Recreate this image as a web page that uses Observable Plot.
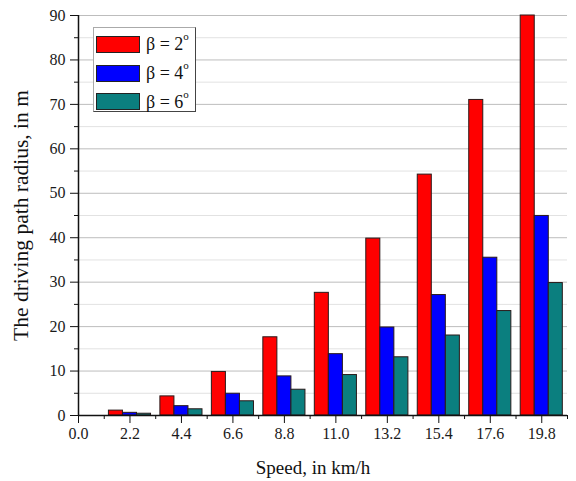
<!DOCTYPE html>
<html>
<head>
<meta charset="utf-8">
<script src="https://cdn.jsdelivr.net/npm/d3@7"></script>
<script src="https://cdn.jsdelivr.net/npm/@observablehq/plot@0.6"></script>
<style>
  html, body { margin: 0; padding: 0; background: #fff; }
  #wrap { position: relative; width: 576px; height: 481px; font-family: "Liberation Serif", "Times New Roman", serif; }
  #wrap svg text { font-family: "Liberation Serif", "Times New Roman", serif; }
  #legend { position: absolute; left: 93px; top: 27px; width: 103px; height: 85px; box-sizing: border-box;
    background: #fff; border: 1px solid #aaa; border-right-color: #444; border-bottom-color: #444; padding: 2px 0 0 2px; }
  #legend .row { display: flex; align-items: center; height: 28.8px; }
  #legend .sw { width: 44px; height: 17px; border: 1px solid #222; box-sizing: border-box; margin-right: 6px; }
  #legend .lab { font-family: "Liberation Serif", "Times New Roman", serif; font-size: 18px; color: #111; white-space: nowrap; line-height: 1; }
  #legend sup { font-size: 11px; position: relative; top: -4px; vertical-align: top; }
</style>
</head>
<body>
<div id="wrap"></div>
<script>
// ---- data ----
const speeds = [2.2, 4.4, 6.6, 8.8, 11.0, 13.2, 15.4, 17.6, 19.8];
const beta2 = [1.1, 4.3, 9.8, 17.6, 27.6, 39.8, 54.2, 71.0, 90.0];
const beta4 = [0.6, 2.1, 4.9, 8.8, 13.8, 19.8, 27.1, 35.5, 44.9];
const beta6 = [0.4, 1.4, 3.2, 5.8, 9.1, 13.1, 18.0, 23.5, 29.8];
const seriesNames = ["β = 2", "β = 4", "β = 6"];
const seriesColors = ["#ff0000", "#0000ff", "#0b7f7f"];
const xTicks = [0.0, 2.2, 4.4, 6.6, 8.8, 11.0, 13.2, 15.4, 17.6, 19.8];
const xMinorTicks = [1.1, 3.3, 5.5, 7.7, 9.9, 12.1, 14.3, 16.5, 18.7, 20.9];
const yTicks = [0, 10, 20, 30, 40, 50, 60, 70, 80, 90];
const yMinorTicks = [5, 15, 25, 35, 45, 55, 65, 75, 85];
const xLabel = "Speed, in km/h";
const yLabel = "The driving path radius, in m";

// ---- layout ----
const barW = 0.6; // in x units
const series = [beta2, beta4, beta6];
const rows = [];
series.forEach((vals, s) => {
  vals.forEach((v, i) => {
    const off = (s - 1) * barW;
    rows.push({x1: speeds[i] + off - barW / 2, x2: speeds[i] + off + barW / 2, y: v, c: seriesColors[s]});
  });
});

const font = '"Liberation Serif", "Times New Roman", serif';
const chart = Plot.plot({
  width: 576,
  height: 481,
  marginLeft: 78,
  marginRight: 9,
  marginTop: 15,
  marginBottom: 66,
  x: {domain: [0, 20.9]},
  y: {domain: [0, 90]},
  style: {fontFamily: font, fontSize: "16px", color: "#1a1a1a", background: "#fff", overflow: "visible"},
  marks: [
    Plot.ruleY(yMinorTicks, {stroke: "#e2e2e2", strokeWidth: 1}),
    Plot.ruleY(yTicks.filter(d => d > 0), {stroke: "#bdbdbd", strokeWidth: 1}),
    Plot.rectY(rows, {x1: "x1", x2: "x2", y: "y", fill: "c", stroke: "#2a1a1a", strokeWidth: 1}),
    Plot.axisX({ticks: xTicks, tickSize: 8, tickPadding: 4, tickFormat: d => d.toFixed(1), label: null, stroke: "#111", fontSize: 16, fontFamily: font}),
    Plot.axisX({ticks: xMinorTicks, tickSize: 4, tickFormat: () => "", label: null, stroke: "#111"}),
    Plot.axisY({ticks: yTicks, tickSize: 8, tickPadding: 5, tickFormat: d => String(d), label: null, stroke: "#111", fontSize: 16, fontFamily: font}),
    Plot.axisY({ticks: yMinorTicks, tickSize: 4, tickFormat: () => "", label: null, stroke: "#111"}),
    Plot.ruleX([0], {stroke: "#111", strokeWidth: 1.5}),
    Plot.ruleY([0], {stroke: "#111", strokeWidth: 1.5}),
    Plot.text([xLabel], {frameAnchor: "bottom", textAnchor: "middle", lineAnchor: "middle", dx: -10, dy: 52, fontSize: 19, fill: "#111", fontFamily: font}),
    Plot.text([yLabel], {frameAnchor: "left", textAnchor: "middle", lineAnchor: "middle", rotate: -90, dx: -57, fontSize: 21.5, fill: "#111", fontFamily: font})
  ]
});
const wrap = document.getElementById("wrap");
wrap.appendChild(chart);

// legend
const leg = document.createElement("div");
leg.id = "legend";
seriesNames.forEach((n, i) => {
  const r = document.createElement("div");
  r.className = "row";
  const sw = document.createElement("div");
  sw.className = "sw";
  sw.style.background = seriesColors[i];
  const lab = document.createElement("span");
  lab.className = "lab";
  lab.textContent = n;
  const sup = document.createElement("sup");
  sup.textContent = "o";
  lab.appendChild(sup);
  r.appendChild(sw);
  r.appendChild(lab);
  leg.appendChild(r);
});
wrap.appendChild(leg);
</script>
</body>
</html>
